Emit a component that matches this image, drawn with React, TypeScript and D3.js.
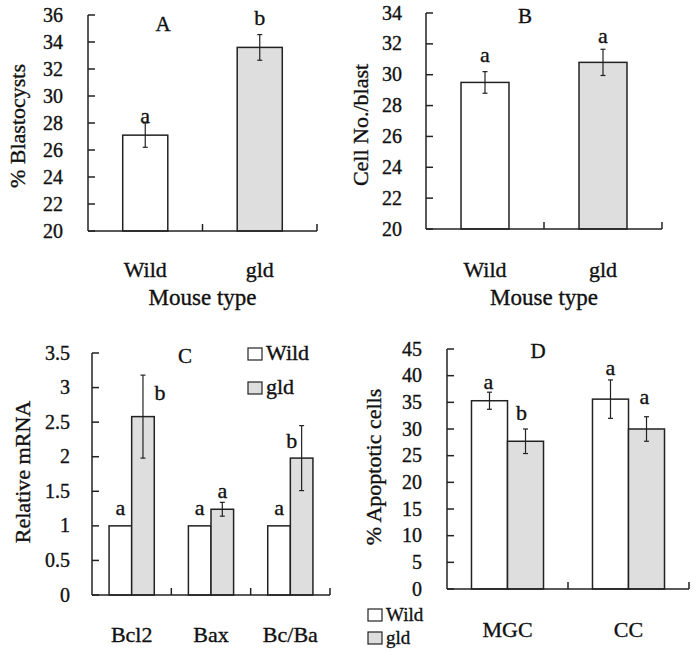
import React from 'react';
import * as d3 from 'd3';

// shared series look
const seriesNames = ['Wild', 'gld'];
const seriesFills = ['#ffffff', '#dedede'];

// Panel A - % blastocysts
const aCategories = ['Wild', 'gld'];
const aValues = [27.1, 33.6];
const aErrors = [0.9, 0.95];
const aLetters = ['a', 'b'];
const aTicks = [20, 22, 24, 26, 28, 30, 32, 34, 36];

// Panel B - cell number per blastocyst
const bCategories = ['Wild', 'gld'];
const bValues = [29.5, 30.8];
const bErrors = [0.7, 0.85];
const bLetters = ['a', 'a'];
const bTicks = [20, 22, 24, 26, 28, 30, 32, 34];

// Panel C - relative mRNA
const cCategories = ['Bcl2', 'Bax', 'Bc/Ba'];
const cWild = [1, 1, 1];
const cWildErr = [0, 0, 0];
const cWildLetters = ['a', 'a', 'a'];
const cGld = [2.58, 1.24, 1.98];
const cGldErr = [0.6, 0.1, 0.47];
const cGldLetters = ['b', 'a', 'b'];
const cTicks = [0, 0.5, 1, 1.5, 2, 2.5, 3, 3.5];

// Panel D - % apoptotic cells
const dCategories = ['MGC', 'CC'];
const dWild = [35.3, 35.6];
const dWildErr = [1.6, 3.6];
const dWildLetters = ['a', 'a'];
const dGld = [27.7, 30.0];
const dGldErr = [2.3, 2.3];
const dGldLetters = ['b', 'a'];
const dTicks = [0, 5, 10, 15, 20, 25, 30, 35, 40, 45];

const FONT = 'Liberation Serif';
const INK = '#222';

// text props shared by every label (slight stroke mimics the heavy scanned glyphs)
// note: no letterSpacing - the renderer drops to a sans face when it is set
const T = { fontFamily: FONT, fill: '#111', stroke: '#111', strokeWidth: 0.35 };

type Series = { values: number[]; errors: number[]; letters: string[] };

type PanelProps = {
  left: number; right: number; top: number; bottom: number;
  domain: [number, number]; ticks: number[];
  categories: string[]; series: Series[];
  fill: (ci: number, si: number) => string;
  outerPad: number;
  letterOffsets: [number, number][][];
  title: string; titleX: number; titleY: number;
  catLabelY: number;
  xTitle?: string; xTitleY?: number;
  yTitle: string; yTitleX: number; yTitleY: number;
  tickLabelX: number;
  legend?: { x: number; y: number; gap: number; size: number };
};

const Panel = (p: PanelProps) => {
  const y = d3.scaleLinear().domain(p.domain).range([p.bottom, p.top]);
  const x = d3.scaleBand<string>().domain(p.categories).range([p.left, p.right]).padding(0);
  const bw = x.bandwidth();
  const inner = d3.scaleBand<number>()
    .domain(p.series.map((_, i) => i))
    .range([0, bw])
    .paddingInner(0)
    .paddingOuter(p.outerPad);
  const bwInner = inner.bandwidth();

  return (
    <g>
      {/* y axis */}
      <line x1={p.left} x2={p.left} y1={p.top} y2={p.bottom} stroke={INK} strokeWidth={1.5} />
      {p.ticks.map(t => (
        <g key={t}>
          <line x1={p.left} x2={p.left + 7} y1={y(t)} y2={y(t)} stroke={INK} strokeWidth={1.5} />
          <text {...T} x={p.tickLabelX} y={y(t) + 6.5} textAnchor="end" fontSize={20}>
            {t}
          </text>
        </g>
      ))}

      {/* bars */}
      {p.categories.map((c, ci) =>
        p.series.map((s, si) => {
          const bx = (x(c) as number) + (inner(si) as number);
          const v = s.values[ci];
          const e = s.errors[ci];
          const cx = bx + bwInner / 2;
          const [dx, dy] = p.letterOffsets[si][ci];
          return (
            <g key={`${c}-${si}`}>
              <rect x={bx} y={y(v)} width={bwInner} height={p.bottom - y(v)}
                fill={p.fill(ci, si)} stroke={INK} strokeWidth={1.5} />
              {e > 0 && (
                <g stroke={INK} strokeWidth={1.2}>
                  <line x1={cx} x2={cx} y1={y(v + e)} y2={y(v - e)} />
                  <line x1={cx - 2.5} x2={cx + 2.5} y1={y(v + e)} y2={y(v + e)} />
                  <line x1={cx - 2.5} x2={cx + 2.5} y1={y(v - e)} y2={y(v - e)} />
                </g>
              )}
              <text {...T} x={cx + dx} y={y(v + e) + dy} textAnchor="middle" fontSize={22}>
                {s.letters[ci]}
              </text>
            </g>
          );
        })
      )}

      {/* x axis */}
      <line x1={p.left} x2={p.right} y1={p.bottom} y2={p.bottom} stroke={INK} strokeWidth={1.5} />
      {p.categories.map(c => (
        <line key={`t${c}`} x1={(x(c) as number) + bw} x2={(x(c) as number) + bw}
          y1={p.bottom} y2={p.bottom - 7} stroke={INK} strokeWidth={1.5} />
      ))}
      {p.categories.map(c => (
        <text {...T} key={`l${c}`} x={(x(c) as number) + bw / 2} y={p.catLabelY}
          textAnchor="middle" fontSize={22}>
          {c}
        </text>
      ))}

      <text {...T} x={p.titleX} y={p.titleY} textAnchor="middle" fontSize={21}>{p.title}</text>

      {p.xTitle && (
        <text {...T} x={(p.left + p.right) / 2} y={p.xTitleY} textAnchor="middle" fontSize={23}>
          {p.xTitle}
        </text>
      )}
      <text {...T} transform={`translate(${p.yTitleX},${p.yTitleY}) rotate(-90)`}
        textAnchor="middle" fontSize={22}>
        {p.yTitle}
      </text>

      {p.legend && seriesNames.map((n, i) => (
        <g key={n} transform={`translate(${p.legend!.x},${p.legend!.y + i * p.legend!.gap})`}>
          <rect x={0} y={0} width={14} height={12} fill={seriesFills[i]} stroke={INK} strokeWidth={1.2} />
          <text {...T} x={18} y={12} fontSize={p.legend!.size}>{n}</text>
        </g>
      ))}
    </g>
  );
};

const App = () => {
  return (
    <svg width={697} height={661} style={{ position: 'absolute', left: 0, top: 0, background: '#fff' }}>
      <Panel
        left={88} right={317} top={15} bottom={231}
        domain={[20, 36]} ticks={aTicks}
        categories={aCategories}
        series={[{ values: aValues, errors: aErrors, letters: aLetters }]}
        fill={(ci) => seriesFills[ci]}
        outerPad={0.77}
        letterOffsets={[[[0, 0], [0, -10]]]}
        title="A" titleX={163} titleY={31}
        catLabelY={277} xTitle="Mouse type" xTitleY={305}
        yTitle="% Blastocysts" yTitleX={25} yTitleY={126}
        tickLabelX={63}
      />
      <Panel
        left={426} right={662} top={13} bottom={229}
        domain={[20, 34]} ticks={bTicks}
        categories={bCategories}
        series={[{ values: bValues, errors: bErrors, letters: bLetters }]}
        fill={(ci) => seriesFills[ci]}
        outerPad={0.73}
        letterOffsets={[[[0, -10], [0, -6]]]}
        title="B" titleX={525} titleY={23}
        catLabelY={277} xTitle="Mouse type" xTitleY={305}
        yTitle="Cell No./blast" yTitleX={368} yTitleY={125}
        tickLabelX={402}
      />
      <Panel
        left={92} right={330} top={353} bottom={595}
        domain={[0, 3.5]} ticks={cTicks}
        categories={cCategories}
        series={[
          { values: cWild, errors: cWildErr, letters: cWildLetters },
          { values: cGld, errors: cGldErr, letters: cGldLetters },
        ]}
        fill={(_, si) => seriesFills[si]}
        outerPad={0.755}
        letterOffsets={[
          [[0, -11], [0, -11], [0, -11]],
          [[17, 25], [0, -4], [-10, 22]],
        ]}
        title="C" titleX={185} titleY={363}
        catLabelY={642}
        yTitle="Relative mRNA" yTitleX={30} yTitleY={472}
        tickLabelX={70}
        legend={{ x: 248, y: 348, gap: 34, size: 22 }}
      />
      <Panel
        left={447} right={689} top={349} bottom={589}
        domain={[0, 45]} ticks={dTicks}
        categories={dCategories}
        series={[
          { values: dWild, errors: dWildErr, letters: dWildLetters },
          { values: dGld, errors: dGldErr, letters: dGldLetters },
        ]}
        fill={(_, si) => seriesFills[si]}
        outerPad={0.68}
        letterOffsets={[
          [[-1, -3], [0, -5]],
          [[-4, -9], [-2, -13]],
        ]}
        title="D" titleX={538} titleY={358}
        catLabelY={637}
        yTitle="% Apoptotic cells" yTitleX={381} yTitleY={467}
        tickLabelX={422}
        legend={{ x: 368, y: 609, gap: 23, size: 19 }}
      />
    </svg>
  );
};

export default App;
